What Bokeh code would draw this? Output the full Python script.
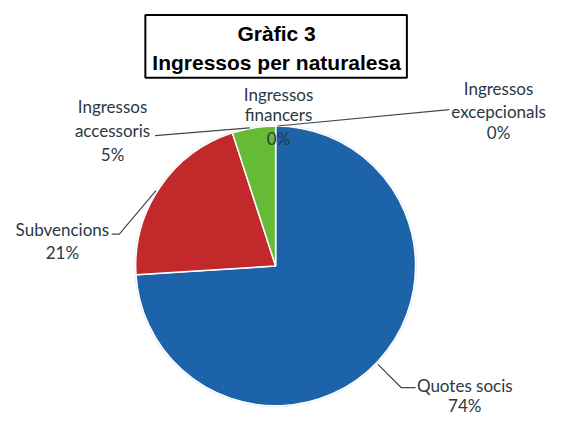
import math
from bokeh.plotting import figure
from bokeh.models import Range1d, ColumnDataSource
from bokeh.core.properties import value
from bokeh.embed import file_html
from bokeh.resources import INLINE

# ---- data ----
categories = ["Quotes socis", "Subvencions", "Ingressos accessoris",
              "Ingressos financers", "Ingressos excepcionals"]
values = [74, 21, 5, 0, 0]
colors = ["#1d63aa", "#c2292b", "#66bb36", "#4a7fb5", "#4a7fb5"]
title_lines = ["Gràfic 3", "Ingressos per naturalesa"]

# ---- layout: reference-pixel coords -> data coords ----
W, H = 550, 417
S = 0.965
def X(px):
    return 279 + (px - 286) * S
def Y(py):
    return H - 2 - py * S

p = figure(width=W, height=H, output_backend="svg", toolbar_location=None,
           x_range=Range1d(0, W), y_range=Range1d(0, H),
           min_border=0, outline_line_color=None)
p.axis.visible = False
p.grid.visible = False
p.background_fill_color = "white"

cx, cy, r = X(282), Y(273), 145 * S
total = sum(values)
starts, ends, cols = [], [], []
cum = 0.0
for v, c in zip(values, colors):
    s = math.pi / 2 - 2 * math.pi * cum / total
    cum += v
    e = math.pi / 2 - 2 * math.pi * cum / total
    if v > 0:
        starts.append(s)
        ends.append(e)
        cols.append(c)

src = ColumnDataSource(dict(start=starts, end=ends, color=cols,
                            x=[cx] * len(cols), y=[cy] * len(cols)))
p.circle(x=[cx], y=[cy], radius=r + 1.5, fill_color="#e4e9ef", line_color=None)
p.wedge(x="x", y="y", radius=r, start_angle="start", end_angle="end",
        direction="clock", fill_color="color", line_color="white",
        line_width=1.5, source=src)

# ---- labels ----
label_font = value("Lato")
label_color = "#2a3942"
label_pos = {
    "Quotes socis": (478, [397, 418]),
    "Subvencions": (61, [235, 259]),
    "Ingressos accessoris": (113, [108, 133, 157]),
    "Ingressos financers": (285, [95, 116, 141]),
    "Ingressos excepcionals": (513, [89, 113, 135]),
}
for cat, v in zip(categories, values):
    x, ys = label_pos[cat]
    words = cat.split(" ")
    if len(ys) == 3:
        lines = [words[0], words[1], f"{v}%"]
    else:
        lines = [cat, f"{v}%"]
    p.text(x=[X(x)] * len(lines), y=[Y(yy) for yy in ys], text=lines,
           text_font=label_font, text_font_size="17px", text_color=label_color,
           text_align="center", text_baseline="middle")

# leader lines
leaders = [
    ([157, 255], [138, 130]),
    ([112, 120, 158], [240, 240, 195]),
    ([284, 462], [128, 111]),
    ([388, 412, 427], [375, 399, 399]),
]
for xs, ys in leaders:
    p.line(x=[X(v) for v in xs], y=[Y(v) for v in ys],
           line_color="#3c4a52", line_width=1.2)

# ---- title box ----
p.quad(left=[X(147)], right=[X(418)], top=[Y(13)], bottom=[Y(78)],
       fill_color="white", line_color="black", line_width=2)
p.text(x=[X(283), X(283)], y=[Y(32), Y(62)], text=title_lines,
       text_font=value("Liberation Sans"), text_font_style="bold",
       text_font_size="21px", text_color="black",
       text_align="center", text_baseline="middle")

open("out.html", "w").write(file_html(p, INLINE))
